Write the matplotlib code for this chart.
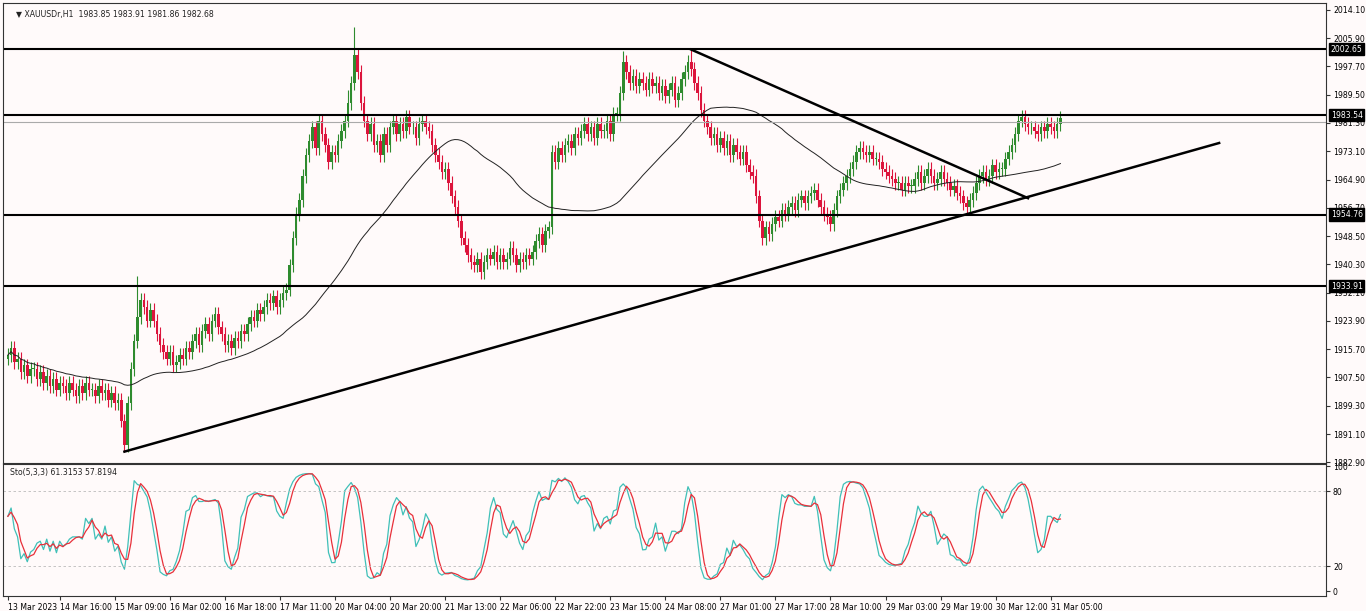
import numpy as np
import pandas as pd
import matplotlib
matplotlib.use("Agg")
import matplotlib.pyplot as plt
from matplotlib.patches import Rectangle

closes = [
1914,1916,1912,1913,1909,1911,1908,1910,1910,1907,
1909,1906,1908,1905,1907,1904,1906,1905,1903,1906,
1904,1902,1905,1903,1906,1904,1904,1902,1905,1903,
1904,1901,1903,1900,1901,1895,1888,1900,1910,1918,
1925,1930,1928,1924,1927,1924,1920,1917,1915,1913,
1915,1911,1912,1914,1913,1916,1915,1918,1920,1917,
1921,1923,1920,1924,1926,1922,1920,1917,1918,1916,
1919,1918,1921,1920,1923,1925,1924,1927,1926,1928,
1930,1929,1931,1928,1930,1932,1933,1940,1948,1955,
1959,1966,1972,1976,1980,1974,1982,1978,1975,1970,
1973,1972,1976,1979,1982,1987,1993,2001,1996,1987,
1982,1978,1981,1975,1976,1972,1978,1975,1980,1982,
1978,1981,1979,1983,1980,1980,1977,1981,1982,1980,
1979,1975,1972,1970,1967,1968,1964,1960,1957,1953,
1948,1946,1943,1941,1940,1942,1938,1941,1943,1942,
1944,1941,1943,1941,1942,1945,1943,1940,1942,1941,
1943,1942,1944,1947,1949,1946,1950,1951,1973,1970,
1974,1972,1975,1976,1974,1978,1977,1979,1981,1978,
1980,1977,1981,1979,1979,1982,1978,1984,1984,1990,
1999,1996,1993,1995,1992,1994,1993,1991,1994,1992,
1993,1990,1992,1989,1991,1993,1988,1990,1994,1996,
1999,1997,1993,1990,1985,1982,1980,1977,1978,1975,
1977,1974,1976,1972,1975,1973,1971,1973,1969,1967,
1966,1960,1953,1948,1951,1949,1952,1954,1953,1956,
1955,1957,1958,1956,1959,1960,1958,1960,1961,1962,
1959,1957,1955,1954,1952,1956,1960,1962,1964,1966,
1968,1970,1973,1974,1973,1972,1973,1971,1971,1970,
1968,1967,1966,1965,1964,1964,1962,1964,1963,1963,
1965,1967,1964,1966,1968,1966,1964,1965,1967,1965,
1964,1962,1963,1961,1960,1958,1957,1959,1961,1964,
1966,1967,1965,1966,1969,1967,1968,1968,1971,1973,
1975,1978,1982,1983,1981,1980,1980,1979,1978,1980,
1979,1981,1980,1979,1981,1982.68]
first_open = 1913.0
high_override = {107: 2009.0, 190: 2002.3, 211: 2002.6, 105: 1991.0, 40: 1937.0}
low_override = {36: 1886.0}
hlines = [2002.65, 1983.54, 1954.76, 1933.91]
trend_up = [(36, 1886.0), (374, 1975.5)]
trend_down = [(211, 2002.6), (315, 1959.5)]
price_ticks = [2014.10, 2005.90, 1997.70, 1989.50, 1981.30, 1973.10, 1964.90, 1956.70,
               1948.50, 1940.30, 1932.10, 1923.90, 1915.70, 1907.50, 1899.30, 1891.10, 1882.90]
time_labels = ['13 Mar 2023','14 Mar 16:00','15 Mar 09:00','16 Mar 02:00','16 Mar 18:00',
 '17 Mar 11:00','20 Mar 04:00','20 Mar 20:00','21 Mar 13:00','22 Mar 06:00','22 Mar 22:00',
 '23 Mar 15:00','24 Mar 08:00','27 Mar 01:00','27 Mar 17:00','28 Mar 10:00','29 Mar 03:00',
 '29 Mar 19:00','30 Mar 12:00','31 Mar 05:00']

c = np.array(closes, float)
n = len(c)
o = np.concatenate([[first_open], c[:-1]])
h = np.maximum(o, c) + 2.0
l = np.minimum(o, c) - 2.0
for k, v in high_override.items(): h[k] = v
for k, v in low_override.items(): l[k] = v
ma = pd.Series(c).rolling(50, min_periods=1).mean().values
hh = pd.Series(h).rolling(5, min_periods=1).max()
ll = pd.Series(l).rolling(5, min_periods=1).min()
num = (pd.Series(c) - ll).rolling(3, min_periods=1).sum()
den = (hh - ll).rolling(3, min_periods=1).sum()
K = (100 * num / den).values
D = pd.Series(K).rolling(3, min_periods=1).mean().values

fs = 5.6
bg = '#fffafa'
fig = plt.figure(figsize=(13.66, 6.11), dpi=100, facecolor=bg)
W, H = 1366, 611
ax = fig.add_axes([3/W, 1-463/H, 1323/W, 460/H], facecolor=bg)
ax2 = fig.add_axes([3/W, 1-596/H, 1323/W, 132/H], facecolor=bg)
xmax = 407
for a in (ax, ax2):
    a.set_xlim(-1.5, xmax)
    for s in a.spines.values():
        s.set_color('#333333'); s.set_linewidth(0.8)
    a.yaxis.tick_right()
    a.tick_params(axis='both', labelsize=fs, length=3, color='#333333', pad=2)
ax.set_ylim(1882.9 - 0.2, 2014.1 + 2.0)

bull, bear = '#2e8b2e', '#dc143c'
for i in range(n):
    col = bull if c[i] >= o[i] else bear
    ax.vlines(i, l[i], h[i], color=col, lw=0.8)
    b0, b1 = min(o[i], c[i]), max(o[i], c[i])
    ax.add_patch(Rectangle((i - 0.4, b0), 0.8, max(b1 - b0, 0.2), color=col, lw=0))
ax.plot(np.arange(n), ma, color='#222222', lw=0.7)
for v in hlines:
    ax.axhline(v, color='black', lw=1.5)
ax.axhline(1981.6, color='#aaaaaa', lw=0.8)
ax.plot([p[0] for p in trend_up], [p[1] for p in trend_up], color='black', lw=1.8)
ax.plot([p[0] for p in trend_down], [p[1] for p in trend_down], color='black', lw=1.8)
ax.set_yticks(price_ticks)
ax.set_yticklabels([f'{t:.2f}' for t in price_ticks])
ax.set_xticks([])
for v in hlines:
    ax.text(1.0035, v, f'{v:.2f}', transform=ax.get_yaxis_transform(), fontsize=fs,
            color='white', va='center', ha='left',
            bbox=dict(boxstyle='square,pad=0.2', fc='black', ec='black'))
ax.text(0.01, 0.985, '\u25BC XAUUSDr,H1  1983.85 1983.91 1981.86 1982.68', transform=ax.transAxes,
        fontsize=fs, va='top', ha='left', color='#222222')

x = np.arange(n)
ax2.plot(x, K, color='#40c0b8', lw=0.9)
ax2.plot(x, D, color='#e8303a', lw=0.9)
ax2.axhline(80, color='#bbbbbb', lw=0.6, ls=(0, (3, 3)))
ax2.axhline(20, color='#bbbbbb', lw=0.6, ls=(0, (3, 3)))
ax2.set_ylim(-4, 102)
ax2.set_yticks([0, 20, 80, 100])
ax2.text(0.005, 0.97, f'Sto(5,3,3) {K[-1]:.4f} {D[-1]:.4f}', transform=ax2.transAxes,
         fontsize=fs, va='top', ha='left', color='#222222')
ticks = [0] + [16 + 17 * k for k in range(len(time_labels) - 1)]
ax2.set_xticks(ticks)
ax2.set_xticklabels(time_labels, ha='left')
fig.savefig('out.png', dpi=100, facecolor=bg)
